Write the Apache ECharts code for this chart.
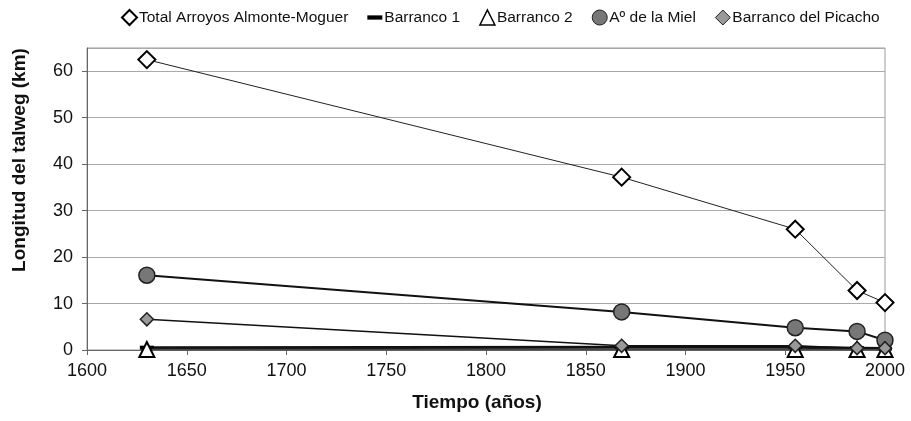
<!DOCTYPE html>
<html>
<head>
<meta charset="utf-8">
<script src="https://cdn.jsdelivr.net/npm/echarts@6/dist/echarts.min.js"></script>
<style>
  html, body { margin: 0; padding: 0; background: #fff; }
  #chart { width: 911px; height: 421px; }
</style>
</head>
<body>
<div id="chart"></div>
<script>
// años de cada levantamiento
var years = [1630, 1868, 1955, 1986, 2000];

// longitud del talweg (km)
var totalArroyos = [62.5, 37.2, 26.0, 12.8, 10.2];
var barranco1 = [0.5, 0.6, 0.6, 0.4, 0.3];
var barranco2 = [0.1, 0.1, 0.1, 0.1, 0.1];
var aMiel = [16.1, 8.2, 4.8, 4.0, 2.1];
var picacho = [6.6, 0.9, 0.9, 0.4, 0.4];

var seriesNames = ['Total Arroyos Almonte-Moguer', 'Barranco 1', 'Barranco 2', 'Aº de la Miel', 'Barranco del Picacho'];

function pairs(vals) {
    return years.map(function (y, i) { return [y, vals[i]]; });
}

var fontFam = '"Liberation Sans", Arial, sans-serif';

var chart = echarts.init(document.getElementById('chart'));

chart.setOption({
    backgroundColor: '#fff',
    animation: false,
    legend: {
        top: 4,
        left: 116,
        itemWidth: 15,
        itemHeight: 15,
        itemGap: 19,
        textStyle: { fontFamily: fontFam, fontSize: 15.5, color: '#111', padding: [0, 0, 0, -3] },
        data: [
            { name: seriesNames[0], icon: 'diamond', itemStyle: { color: '#fff', borderColor: '#000', borderWidth: 2 } },
            { name: seriesNames[1], icon: 'path://M0,5 L14,5 L14,9 L0,9 Z', itemStyle: { color: '#000', borderWidth: 0 } },
            { name: seriesNames[2], icon: 'triangle', itemStyle: { color: '#fff', borderColor: '#000', borderWidth: 1.5 } },
            { name: seriesNames[3], icon: 'circle', itemStyle: { color: '#777', borderColor: '#222', borderWidth: 1 } },
            { name: seriesNames[4], icon: 'diamond', itemStyle: { color: '#999', borderColor: '#222', borderWidth: 1 } }
        ]
    },
    grid: {
        left: 87,
        right: 26,
        top: 48,
        bottom: 71,
        show: true,
        borderColor: '#999',
        borderWidth: 1
    },
    xAxis: {
        type: 'value',
        min: 1600,
        max: 2000,
        interval: 50,
        name: 'Tiempo (años)',
        nameLocation: 'middle',
        nameGap: 43,
        nameTextStyle: { fontFamily: fontFam, fontSize: 19, fontWeight: 'bold', color: '#111', padding: [0, 18, 0, 0] },
        axisLine: { lineStyle: { color: '#666', width: 1 } },
        axisTick: { show: true, inside: false, length: 5, lineStyle: { color: '#666' } },
        axisLabel: {
            fontFamily: fontFam, fontSize: 18, color: '#111', margin: 12,
            formatter: function (v) { return String(v); }
        },
        splitLine: { show: false }
    },
    yAxis: {
        type: 'value',
        min: 0,
        max: 65,
        interval: 10,
        name: 'Longitud del talweg (km)',
        nameLocation: 'middle',
        nameGap: 58,
        nameTextStyle: { fontFamily: fontFam, fontSize: 19, fontWeight: 'bold', color: '#111', padding: [0, 0, 0, 78] },
        axisLine: { show: true, lineStyle: { color: '#666', width: 1 } },
        axisTick: { show: true, inside: false, length: 5, lineStyle: { color: '#666' } },
        axisLabel: { fontFamily: fontFam, fontSize: 18, color: '#111', margin: 14, showMaxLabel: false },
        splitLine: { show: true, lineStyle: { color: '#aaa', width: 1 } }
    },
    series: [
        {
            name: seriesNames[0],
            type: 'line',
            data: pairs(totalArroyos),
            symbol: 'diamond',
            symbolSize: 17,
            lineStyle: { color: '#222', width: 1 },
            itemStyle: { color: '#fff', borderColor: '#000', borderWidth: 2 },
            z: 5
        },
        {
            name: seriesNames[1],
            type: 'line',
            data: pairs(barranco1),
            symbol: 'rect',
            symbolSize: [14, 4],
            lineStyle: { color: '#111', width: 3 },
            itemStyle: { color: '#000', borderWidth: 0 },
            z: 3
        },
        {
            name: seriesNames[2],
            type: 'line',
            data: pairs(barranco2),
            symbol: 'triangle',
            symbolSize: 15,
            lineStyle: { color: '#444', width: 1.5 },
            itemStyle: { color: '#fff', borderColor: '#000', borderWidth: 2 },
            z: 4
        },
        {
            name: seriesNames[3],
            type: 'line',
            data: pairs(aMiel),
            symbol: 'circle',
            symbolSize: 16,
            lineStyle: { color: '#111', width: 2 },
            itemStyle: { color: '#777', borderColor: '#222', borderWidth: 1.5 },
            z: 4
        },
        {
            name: seriesNames[4],
            type: 'line',
            data: pairs(picacho),
            symbol: 'diamond',
            symbolSize: 13,
            lineStyle: { color: '#111', width: 1.5 },
            itemStyle: { color: '#999', borderColor: '#222', borderWidth: 1.5 },
            z: 4
        }
    ]
});
</script>
</body>
</html>
